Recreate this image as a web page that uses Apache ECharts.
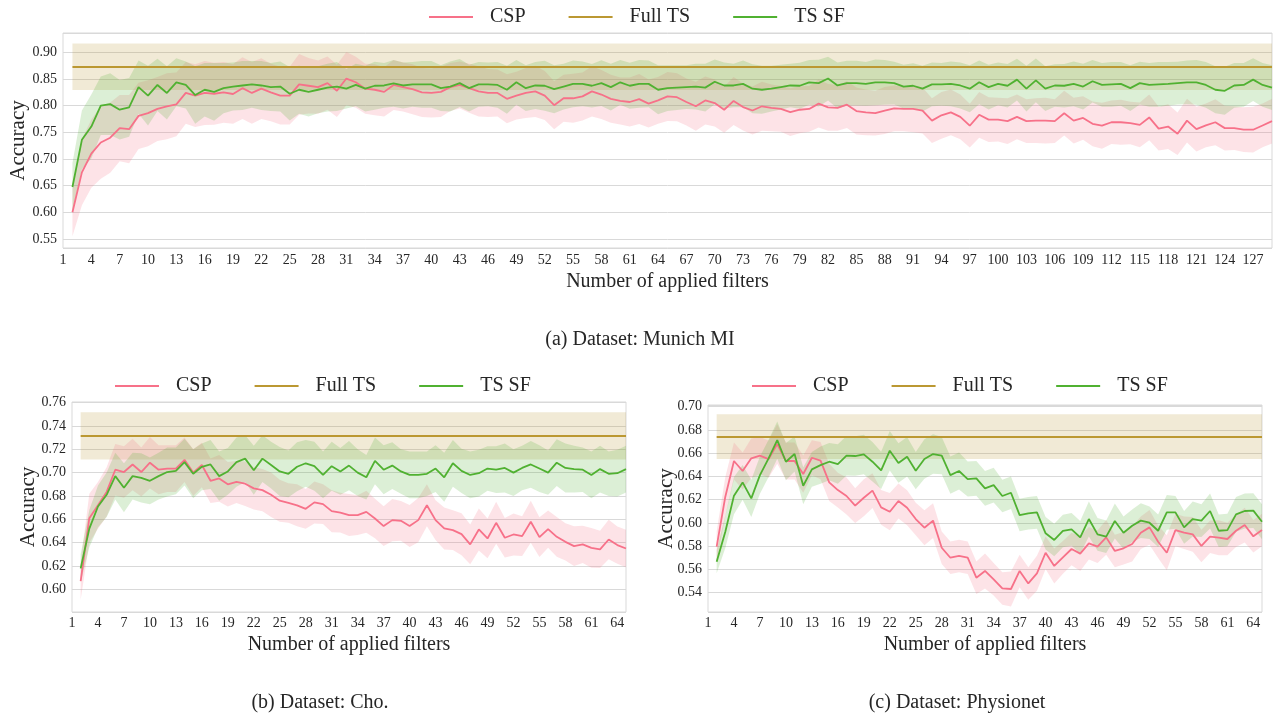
<!DOCTYPE html>
<html>
<head>
<meta charset="utf-8">
<script src="https://cdn.jsdelivr.net/npm/echarts@6/dist/echarts.min.js"></script>
<style>
html,body{margin:0;padding:0;background:#fff;}
#c{width:1273px;height:717px;}
</style>
</head>
<body>
<div id="c"></div>
<script>
// ---------- DATA (x = 2 .. N+1) ----------
const seriesNames = ['CSP', 'Full TS', 'TS SF'];

// (a) Munich MI, x = 2..129
const cspMunich = [
0.600,0.675,0.710,0.731,0.740,0.758,0.756,0.781,0.786,0.794,0.799,0.8025,0.824,0.819,0.824,0.8225,0.825,0.822,0.833,0.824,0.832,0.825,0.819,0.819,0.840,0.8375,0.835,0.8425,0.828,0.851,0.844,0.832,0.830,0.826,0.839,0.835,0.831,0.825,
0.824,0.826,0.835,0.839,0.833,0.827,0.824,0.824,0.813,0.819,0.824,0.827,0.819,0.801,0.814,0.814,0.8175,0.827,0.821,0.813,0.809,0.807,0.8125,0.804,0.810,0.8175,0.816,0.807,0.799,0.810,0.805,0.7925,0.809,0.7975,0.791,0.799,0.796,0.794,0.788,0.7925,0.794,0.804,0.797,0.796,0.802,
0.790,0.7875,0.786,0.791,0.795,0.794,0.794,0.791,0.772,0.782,0.7875,0.779,0.7625,0.783,0.774,0.774,0.771,0.779,0.771,0.772,0.772,0.771,0.786,0.772,0.777,0.766,0.7625,0.769,0.769,0.7675,0.764,0.778,0.757,0.761,0.7475,0.772,0.756,0.763,0.769,0.758,0.758,0.755,0.755,0.763,0.771];
const cspMunichSpread = [
0.045,0.062,0.064,0.068,0.066,0.062,0.064,0.062,0.062,0.060,0.062,0.060,0.058,0.059,0.060,0.058,
0.057,0.056,0.058,0.058,0.057,0.054,0.054,0.054,0.057,0.052,0.050,0.050,0.049,0.050,0.048,0.047,0.048,0.046,0.047,0.046,0.047,0.046,
0.046,0.047,0.045,0.044,0.046,0.047,0.045,0.044,0.046,0.045,0.047,0.048,0.046,0.045,0.044,0.046,0.045,0.047,0.046,0.045,0.044,0.046,0.047,0.045,0.044,0.046,0.045,0.044,0.046,0.045,0.044,0.043,0.045,0.044,0.045,0.046,0.044,0.043,0.045,0.044,0.043,0.045,0.044,0.043,0.044,
0.044,0.043,0.042,0.044,0.043,0.042,0.044,0.043,0.042,0.044,0.043,0.042,0.041,0.043,0.042,0.041,0.043,0.042,0.041,0.042,0.043,0.041,0.042,0.043,0.041,0.042,0.043,0.041,0.042,0.040,0.042,0.043,0.041,0.042,0.040,0.041,0.042,0.041,0.043,0.042,0.041,0.042,0.043,0.041,0.042];
const tssfMunich = [
0.6475,0.736,0.761,0.800,0.803,0.7925,0.797,0.835,0.819,0.839,0.824,0.844,0.839,0.820,0.830,0.826,0.833,0.836,0.838,0.840,0.838,0.835,0.836,0.8225,0.830,0.826,0.830,0.834,0.836,0.832,0.839,0.832,0.8375,0.838,0.842,0.838,0.840,0.840,
0.840,0.833,0.836,0.8425,0.833,0.840,0.840,0.839,0.830,0.844,0.833,0.838,0.8375,0.831,0.836,0.841,0.841,0.8375,0.8425,0.835,0.844,0.8375,0.841,0.841,0.830,0.833,0.834,0.835,0.836,0.834,0.845,0.838,0.838,0.841,0.832,0.830,0.832,0.835,0.838,0.8375,0.844,0.8425,0.851,0.838,0.8425,
0.8425,0.841,0.844,0.844,0.8425,0.836,0.8375,0.832,0.840,0.840,0.841,0.838,0.832,0.844,0.835,0.841,0.8375,0.849,0.832,0.8475,0.832,0.838,0.8375,0.841,0.836,0.846,0.839,0.840,0.841,0.833,0.8425,0.839,0.840,0.841,0.8425,0.844,0.844,0.839,0.830,0.828,0.838,0.839,0.849,0.839,0.834];
const tssfMunichSpread = [
0.045,0.055,0.060,0.055,0.058,0.056,0.055,0.050,0.056,0.049,0.050,0.045,0.044,0.054,0.050,0.054,
0.047,0.045,0.046,0.044,0.046,0.045,0.047,0.050,0.045,0.046,0.044,0.045,0.046,0.037,0.040,0.043,0.045,0.042,0.044,0.043,0.042,0.044,
0.044,0.043,0.047,0.045,0.044,0.042,0.041,0.043,0.045,0.042,0.043,0.044,0.047,0.045,0.043,0.044,0.042,0.041,0.043,0.044,0.042,0.043,0.045,0.044,0.046,0.043,0.042,0.041,0.043,0.045,0.042,0.043,0.041,0.044,0.046,0.045,0.043,0.042,0.041,0.043,0.042,0.044,0.041,0.043,0.042,
0.042,0.041,0.043,0.042,0.040,0.041,0.042,0.043,0.041,0.040,0.042,0.043,0.044,0.041,0.042,0.040,0.041,0.039,0.043,0.041,0.042,0.040,0.041,0.042,0.043,0.040,0.041,0.042,0.041,0.043,0.040,0.041,0.042,0.041,0.040,0.041,0.042,0.043,0.044,0.045,0.042,0.041,0.040,0.041,0.042];
const fullTsMunich = [0.8293, 0.8737, 0.9170]; // lower, mean, upper

// (b) Cho, x = 2..65
const cspCho = [
0.607,0.661,0.672,0.6835,0.7025,0.7005,0.707,0.7005,0.7085,0.7025,0.7035,0.7035,0.711,0.700,0.7065,0.693,0.695,0.690,0.692,0.6905,0.6865,0.685,0.681,0.676,0.674,0.672,0.669,0.6745,0.673,0.667,
0.6658,0.6636,0.6636,0.6664,0.6607,0.6542,0.6593,0.6587,0.6542,0.6593,0.6721,0.6593,0.6522,0.6507,0.6473,0.6385,0.6513,0.6436,0.657,0.6442,0.647,0.6456,0.6579,0.6447,0.6516,0.645,0.6407,0.637,0.6385,0.6356,0.6342,0.6427,0.6379,0.635];
const cspChoSpread = [
0.016,0.021,0.020,0.021,0.022,0.022,0.022,0.021,0.022,0.021,0.020,0.020,0.019,0.020,0.019,0.019,0.020,0.019,0.018,0.019,0.018,0.018,0.019,0.018,0.017,0.018,0.017,0.018,0.017,0.018,
0.017,0.018,0.017,0.018,0.017,0.017,0.018,0.017,0.018,0.019,0.018,0.017,0.018,0.017,0.018,0.017,0.018,0.017,0.018,0.017,0.018,0.017,0.018,0.017,0.016,0.017,0.016,0.017,0.016,0.017,0.016,0.017,0.016,0.016];
const tssfCho = [
0.618,0.652,0.671,0.681,0.697,0.687,0.697,0.6955,0.693,0.697,0.7005,0.7015,0.709,0.699,0.705,0.707,0.697,0.701,0.709,0.712,0.702,0.712,0.7065,0.701,0.699,0.705,0.708,0.7055,0.698,0.7055,
0.701,0.706,0.700,0.696,0.710,0.7025,0.706,0.701,0.698,0.698,0.699,0.7035,0.696,0.708,0.7015,0.698,0.6995,0.7035,0.7025,0.704,0.700,0.704,0.707,0.7035,0.700,0.7085,0.704,0.703,0.7025,0.698,0.703,0.699,0.6995,0.703];
const tssfChoSpread = [
0.012,0.016,0.018,0.019,0.020,0.021,0.020,0.021,0.020,0.020,0.021,0.020,0.020,0.021,0.020,0.021,0.021,0.020,0.021,0.020,0.021,0.020,0.020,0.021,0.020,0.021,0.020,0.021,0.020,0.021,
0.020,0.021,0.020,0.019,0.020,0.021,0.020,0.019,0.020,0.020,0.019,0.020,0.021,0.020,0.019,0.020,0.020,0.019,0.020,0.021,0.020,0.019,0.020,0.020,0.019,0.020,0.021,0.020,0.019,0.020,0.020,0.019,0.020,0.020];
const fullTsCho = [0.7113, 0.7315, 0.7517];

// (c) Physionet, x = 2..65
const cspPhysionet = [
0.5796,0.6226,0.6533,0.6447,0.6556,0.6579,0.655,0.6679,0.6533,0.6533,0.6421,0.6561,0.6536,0.6349,0.6283,0.6232,0.6149,0.6217,0.6278,0.6134,0.6097,0.6189,0.6131,0.6034,0.5959,0.602,0.5787,0.5701,0.5716,
0.5701,0.5529,0.5587,0.5515,0.5437,0.5432,0.5587,0.548,0.5567,0.5744,0.563,0.5704,0.5776,0.5736,0.5825,0.5796,0.5876,0.5759,0.5782,0.5819,0.5916,0.5962,0.5839,0.5744,0.5939,0.5916,0.5902,0.5802,0.5882,0.5873,0.5862,0.5933,0.5982,0.5885,0.5939];
const cspPhysionetSpread = [
0.013,0.017,0.016,0.016,0.017,0.016,0.016,0.017,0.016,0.016,0.016,0.015,0.016,0.016,0.015,0.016,0.015,0.016,0.015,0.015,0.016,0.015,0.015,0.014,0.015,0.015,0.014,0.014,0.014,
0.014,0.014,0.015,0.014,0.014,0.015,0.014,0.014,0.015,0.014,0.015,0.014,0.014,0.015,0.014,0.014,0.015,0.014,0.014,0.015,0.014,0.015,0.014,0.015,0.014,0.014,0.015,0.014,0.014,0.015,0.014,0.014,0.015,0.014,0.014];
const tssfPhysionet = [
0.5667,0.5925,0.6235,0.6349,0.6212,0.6412,0.6556,0.6713,0.6527,0.6593,0.632,0.6461,0.6498,0.6527,0.6507,0.6579,0.6576,0.659,0.6527,0.6452,0.6622,0.6516,0.657,0.645,0.655,0.6593,0.6579,0.6412,0.6447,
0.6378,0.6384,0.6298,0.6326,0.6232,0.626,0.6068,0.6083,0.6091,0.5911,0.5854,0.5931,0.5945,0.5876,0.6034,0.5902,0.5882,0.6017,0.5916,0.5976,0.602,0.6002,0.5933,0.6091,0.6091,0.5962,0.6034,0.602,0.6103,0.5933,0.5939,0.6074,0.6103,0.6106,0.6011];
const tssfPhysionetSpread = [
0.010,0.014,0.016,0.015,0.016,0.016,0.016,0.016,0.016,0.015,0.016,0.015,0.016,0.016,0.017,0.017,0.017,0.017,0.017,0.016,0.017,0.017,0.017,0.016,0.017,0.017,0.016,0.016,0.016,
0.015,0.015,0.015,0.015,0.014,0.014,0.014,0.014,0.014,0.014,0.014,0.014,0.014,0.014,0.015,0.014,0.014,0.015,0.014,0.014,0.015,0.014,0.014,0.015,0.014,0.014,0.015,0.014,0.015,0.014,0.014,0.015,0.015,0.015,0.015];
const fullTsPhysionet = [0.6550, 0.6742, 0.6935];

const captions = ['(a) Dataset: Munich MI', '(b) Dataset: Cho.', '(c) Dataset: Physionet'];

// ---------- STYLE ----------
const COL = {'CSP': '#f77189', 'Full TS': '#bb9832', 'TS SF': '#50b131'};
const BAND = {'CSP': 'rgba(247,113,137,0.2)', 'Full TS': 'rgba(187,152,50,0.2)', 'TS SF': 'rgba(80,177,49,0.2)'};
const FONT = "'Liberation Serif','Times New Roman',serif";
const TXT = '#262626';
const GRIDC = '#d9d9d9';

const panels = [
  {csp: cspMunich, cspS: cspMunichSpread, ts: tssfMunich, tsS: tssfMunichSpread, full: fullTsMunich,
   grid: {left: 63, top: 33, width: 1209, height: 215}, yMin: 0.533, yMax: 0.9365, yInt: 0.05,
   nameGapY: 34, nameGapX: 24, legendLeft: 424, legendTop: 2},
  {csp: cspCho, cspS: cspChoSpread, ts: tssfCho, tsS: tssfChoSpread, full: fullTsCho,
   grid: {left: 72, top: 402, width: 554, height: 210}, yMin: 0.5806, yMax: 0.7605, yInt: 0.02,
   nameGapY: 33, nameGapX: 23, legendLeft: 110, legendTop: 371},
  {csp: cspPhysionet, cspS: cspPhysionetSpread, ts: tssfPhysionet, tsS: tssfPhysionetSpread, full: fullTsPhysionet,
   grid: {left: 708, top: 405, width: 554, height: 207}, yMin: 0.5234, yMax: 0.7015, yInt: 0.02,
   nameGapY: 31, nameGapX: 23, legendLeft: 747, legendTop: 371}
];

const grids = [], xAxes = [], yAxes = [], series = [], legends = [];

panels.forEach((p, g) => {
  const n = p.csp.length;
  const cats = [];
  for (let i = 1; i <= n + 1; i++) cats.push(String(i));
  const lastCat = cats[cats.length - 1];

  grids.push(Object.assign({show: true, borderColor: GRIDC, borderWidth: 1, backgroundColor: 'transparent',
    containLabel: false, outerBoundsMode: 'none'}, p.grid));
  xAxes.push({
    type: 'category', gridIndex: g, data: cats, boundaryGap: false,
    axisLine: {show: false}, axisTick: {show: false}, splitLine: {show: false},
    axisLabel: {interval: (idx) => idx % 3 === 0, color: TXT, fontFamily: FONT, fontSize: 14, margin: g === 0 ? 5 : 4, hideOverlap: false},
    name: 'Number of applied filters', nameLocation: 'middle', nameGap: p.nameGapX,
    nameTextStyle: {color: TXT, fontFamily: FONT, fontSize: 20}
  });
  yAxes.push({
    type: 'value', gridIndex: g, min: p.yMin, max: p.yMax, splitNumber: Math.round((p.yMax - p.yMin) / p.yInt),
    minInterval: p.yInt, maxInterval: p.yInt,
    axisLine: {show: false}, axisTick: {show: false},
    splitLine: {show: true, lineStyle: {color: GRIDC, width: 1}},
    axisLabel: {showMinLabel: false, showMaxLabel: false, color: TXT, fontFamily: FONT, fontSize: 14, margin: 6,
      formatter: (v) => v.toFixed(2)},
    name: 'Accuracy', nameLocation: 'middle', nameGap: p.nameGapY, nameMoveOverlap: false,
    nameTextStyle: {color: TXT, fontFamily: FONT, fontSize: 21}
  });

  const pad = (arr) => [null].concat(arr);
  const addBand = (key, mean, spread) => {
    series.push({
      type: 'line', name: key + ' lo ' + g, xAxisIndex: g, yAxisIndex: g, stack: 'band' + key + g,
      data: pad(mean.map((m, i) => m - spread[i])), showSymbol: false, symbol: 'none',
      lineStyle: {opacity: 0, width: 0}, silent: true, z: 1
    });
    series.push({
      type: 'line', name: key + ' hi ' + g, xAxisIndex: g, yAxisIndex: g, stack: 'band' + key + g,
      data: pad(spread.map((s) => 2 * s)), showSymbol: false, symbol: 'none',
      lineStyle: {opacity: 0, width: 0}, areaStyle: {color: BAND[key], opacity: 1}, silent: true, z: 1
    });
  };
  const addLine = (key, mean) => {
    series.push({
      type: 'line', name: key, xAxisIndex: g, yAxisIndex: g, data: pad(mean),
      showSymbol: false, symbol: 'none', color: COL[key],
      lineStyle: {color: COL[key], width: 1.8}, z: 3
    });
  };

  addBand('CSP', p.csp, p.cspS);
  addLine('CSP', p.csp);
  series.push({
    type: 'line', name: 'Full TS', xAxisIndex: g, yAxisIndex: g, data: [], color: COL['Full TS'],
    lineStyle: {color: COL['Full TS'], width: 2}, z: 3,
    markArea: {silent: true, itemStyle: {color: BAND['Full TS']},
      data: [[{xAxis: '2', yAxis: p.full[2]}, {xAxis: lastCat, yAxis: p.full[0]}]]},
    markLine: {silent: true, symbol: 'none', label: {show: false},
      lineStyle: {color: COL['Full TS'], width: 2, type: 'solid'},
      data: [[{coord: ['2', p.full[1]]}, {coord: [lastCat, p.full[1]]}]]}
  });
  addBand('TS SF', p.ts, p.tsS);
  addLine('TS SF', p.ts);

  legends.push({
    data: seriesNames, left: p.legendLeft, top: p.legendTop, orient: 'horizontal',
    icon: 'rect', itemWidth: 44, itemHeight: 2, itemGap: 43,
    textStyle: {color: TXT, fontFamily: FONT, fontSize: 20, padding: [0, 0, 0, 12]},
    selectedMode: false
  });
});

const capPos = [[640, 340], [320, 703], [957, 703]];
const graphics = captions.map((t, i) => ({
  type: 'text', x: capPos[i][0], y: capPos[i][1],
  style: {text: t, fill: TXT, font: "20px 'Liberation Serif', 'Times New Roman', serif", align: 'center', verticalAlign: 'middle'}
}));

const chart = echarts.init(document.getElementById('c'));
chart.setOption({
  animation: false,
  backgroundColor: '#ffffff',
  grid: grids, xAxis: xAxes, yAxis: yAxes, series: series, legend: legends,
  graphic: graphics
});
</script>
</body>
</html>
